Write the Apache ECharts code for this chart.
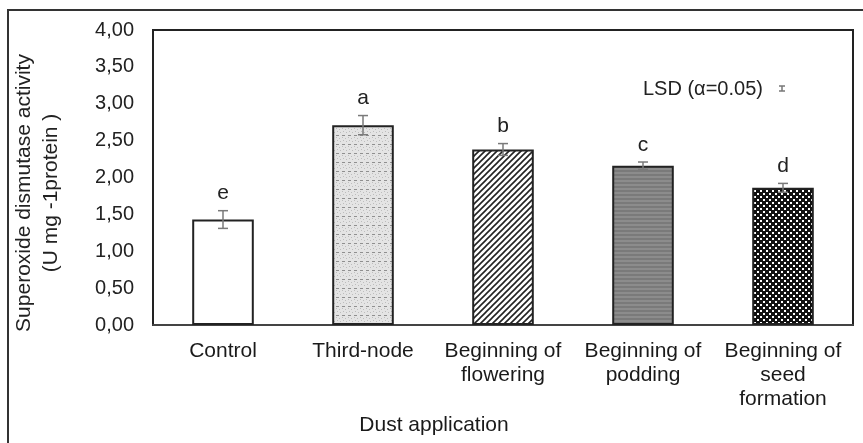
<!DOCTYPE html>
<html>
<head>
<meta charset="utf-8">
<script src="https://cdn.jsdelivr.net/npm/echarts@6/dist/echarts.min.js"></script>
<style>
html, body { margin: 0; padding: 0; background: #fff; }
#chart { width: 863px; height: 443px; }
</style>
</head>
<body>
<div id="chart"></div>
<script>
var categories = ['Control', 'Third-node', 'Beginning of\nflowering', 'Beginning of\npodding', 'Beginning of\nseed\nformation'];
var means = [1.43, 2.71, 2.38, 2.16, 1.86];
var errors = [0.12, 0.13, 0.08, 0.05, 0.06];
var letters = ['e', 'a', 'b', 'c', 'd'];

var baseFont = 'Liberation Sans, Arial, sans-serif';

// fill patterns for the bars
function makePattern(w, h, draw) {
    var c = document.createElement('canvas');
    c.width = w;
    c.height = h;
    draw(c.getContext('2d'));
    return { image: c, repeat: 'repeat' };
}

var patWhite = '#ffffff';

var patDots = makePattern(6, 9, function (ctx) {
    ctx.fillStyle = '#e4e4e4';
    ctx.fillRect(0, 0, 6, 9);
    ctx.fillStyle = '#bdbdbd';
    ctx.fillRect(0, 2, 1, 1); ctx.fillRect(3, 3, 1, 1);
    ctx.fillRect(1, 5, 1, 1); ctx.fillRect(4, 6, 1, 1);
    ctx.fillStyle = '#8f8f8f';
    ctx.fillRect(0, 0, 3, 1);
});

var patHatch = makePattern(6, 6, function (ctx) {
    ctx.fillStyle = '#ffffff';
    ctx.fillRect(0, 0, 6, 6);
    ctx.strokeStyle = '#222';
    ctx.lineWidth = 1.6;
    ctx.beginPath();
    ctx.moveTo(-1, 7); ctx.lineTo(7, -1);
    ctx.moveTo(-4, 4); ctx.lineTo(4, -4);
    ctx.moveTo(2, 10); ctx.lineTo(10, 2);
    ctx.stroke();
});

var patStripes = makePattern(4, 4, function (ctx) {
    ctx.fillStyle = '#7a7a7a';
    ctx.fillRect(0, 0, 4, 4);
    ctx.fillStyle = '#8c8c8c';
    ctx.fillRect(0, 0, 4, 2);
});

var patChecker = makePattern(6, 6, function (ctx) {
    ctx.fillStyle = '#111';
    ctx.fillRect(0, 0, 6, 6);
    ctx.fillStyle = '#ffffff';
    ctx.fillRect(1, 1, 2, 2);
    ctx.fillRect(4, 4, 2, 2);
});

var fills = [patWhite, patDots, patHatch, patStripes, patChecker];

var barData = means.map(function (v, i) {
    return { value: v, itemStyle: { color: fills[i] } };
});

var errData = means.map(function (v, i) {
    return [i, v, errors[i]];
});

var chart = echarts.init(document.getElementById('chart'));

var option = {
    animation: false,
    backgroundColor: '#fff',
    grid: {
        left: 153,
        right: 10,
        top: 30,
        bottom: 118,
        show: true,
        borderColor: '#222',
        borderWidth: 2
    },
    xAxis: {
        type: 'category',
        data: categories,
        axisLine: { lineStyle: { color: '#444', width: 2 } },
        axisTick: { show: false },
        axisLabel: {
            color: '#1a1a1a',
            fontFamily: baseFont,
            fontSize: 21,
            lineHeight: 24,
            margin: 14,
            interval: 0
        }
    },
    yAxis: {
        type: 'value',
        min: 0,
        max: 4,
        interval: 0.5,
        axisLine: { show: true, lineStyle: { color: '#222', width: 2 } },
        axisTick: { show: false },
        splitLine: { show: false },
        axisLabel: {
            color: '#222',
            fontFamily: baseFont,
            fontSize: 20,
            margin: 19,
            formatter: function (v) { return v.toFixed(2).replace('.', ','); }
        }
    },
    graphic: [
        {
            type: 'rect',
            shape: { x: 8, y: 10, width: 900, height: 500 },
            style: { fill: 'none', stroke: '#333', lineWidth: 2 },
            z: -1
        },
        {
            type: 'text',
            x: 38,
            y: 193,
            rotation: Math.PI / 2,
            style: {
                text: 'Superoxide dismutase activity\n(U mg -1protein )',
                fontFamily: baseFont,
                fontSize: 21,
                lineHeight: 27,
                fill: '#222',
                align: 'center',
                verticalAlign: 'middle'
            }
        },
        {
            type: 'text',
            x: 434,
            y: 425,
            style: {
                text: 'Dust application',
                fontFamily: baseFont,
                fontSize: 21,
                fill: '#1a1a1a',
                align: 'center',
                verticalAlign: 'middle'
            }
        },
        {
            type: 'text',
            x: 643,
            y: 89,
            style: {
                text: 'LSD (\u03b1=0.05)',
                fontFamily: baseFont,
                fontSize: 20,
                fill: '#222',
                align: 'left',
                verticalAlign: 'middle'
            }
        },
        {
            type: 'polyline',
            shape: { points: [[779, 86], [785, 86]] },
            style: { stroke: '#777', lineWidth: 1.5 }
        },
        {
            type: 'polyline',
            shape: { points: [[779, 91], [785, 91]] },
            style: { stroke: '#777', lineWidth: 1.5 }
        },
        {
            type: 'polyline',
            shape: { points: [[782, 86], [782, 91]] },
            style: { stroke: '#777', lineWidth: 1.5 }
        }
    ],
    series: [
        {
            type: 'bar',
            data: barData,
            barWidth: '44%',
            itemStyle: { borderColor: '#222', borderWidth: 2 },
            z: 2
        },
        {
            type: 'custom',
            data: errData,
            z: 3,
            renderItem: function (params, api) {
                var x = api.value(0);
                var v = api.value(1);
                var e = api.value(2);
                var top = api.coord([x, v + e]);
                var bot = api.coord([x, v - e]);
                var cap = 5;
                var st = { stroke: '#7a7a7a', lineWidth: 1.5 };
                return {
                    type: 'group',
                    children: [
                        { type: 'line', shape: { x1: top[0], y1: top[1], x2: bot[0], y2: bot[1] }, style: st },
                        { type: 'line', shape: { x1: top[0] - cap, y1: top[1], x2: top[0] + cap, y2: top[1] }, style: st },
                        { type: 'line', shape: { x1: bot[0] - cap, y1: bot[1], x2: bot[0] + cap, y2: bot[1] }, style: st },
                        {
                            type: 'text',
                            x: top[0],
                            y: top[1] - 17,
                            style: {
                                text: letters[params.dataIndex],
                                fontFamily: baseFont,
                                fontSize: 21,
                                fill: '#222',
                                align: 'center',
                                verticalAlign: 'middle'
                            }
                        }
                    ]
                };
            }
        }
    ]
};

chart.setOption(option);
</script>
</body>
</html>
